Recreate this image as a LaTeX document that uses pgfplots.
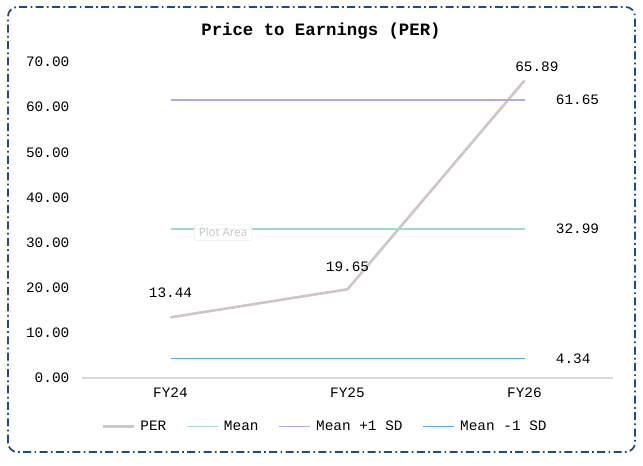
\documentclass[border=0pt]{standalone}
\usepackage{pgfplots}
\pgfplotsset{compat=1.18}
\usepackage{fontspec}
\setmainfont{Liberation Mono}
\newfontfamily\tipfont{Open Sans}
\definecolor{perc}{HTML}{D0C6C8}
\definecolor{meanc}{HTML}{9ED9C6}
\definecolor{plusc}{HTML}{B4A7E5}
\definecolor{minusc}{HTML}{5DA6F0}
\definecolor{borderc}{HTML}{1B4C8A}
\begin{document}
\begin{tikzpicture}
\useasboundingbox (0,0) rectangle (482.25pt,348.75pt);
\draw[borderc, line width=1.3pt, rounded corners=7pt, dash pattern=on 6pt off 2.5pt on 1.3pt off 2.5pt] (6pt,9.75pt) rectangle (476.25pt,343.5pt);
\node[font=\fontsize{13}{15}\selectfont\bfseries] at (240.75pt,325.5pt) {Price to Earnings (PER)};
\begin{axis}[
  at={(61.5pt,65.25pt)}, anchor=south west,
  scale only axis, width=398.25pt, height=237pt,
  xmin=-0.5, xmax=2.5, ymin=0, ymax=70,
  xtick={0,1,2}, xticklabels={FY24,FY25,FY26},
  ytick={0,10,20,30,40,50,60,70},
  yticklabel style={/pgf/number format/fixed, /pgf/number format/fixed zerofill, /pgf/number format/precision=2, xshift=-6pt},
  /pgf/number format/assume math mode=true,
  tick label style={font=\fontsize{10.8}{12}\selectfont},
  axis y line*=left, y axis line style={draw=none},
  axis x line*=bottom, x axis line style={draw=black!15, line width=0.8pt},
  major tick length=0pt,
  xticklabel style={yshift=-4pt},
  clip=false,
  legend columns=4,
  legend style={draw=none, fill=none, at={(0.4586,-0.153)}, anchor=center,
    font=\fontsize{10.8}{12}\selectfont, column sep=13pt,
    /tikz/every odd column/.append style={column sep=2pt}},
  legend image code/.code={\draw[#1] (0pt,0pt) -- (23pt,0pt);},
]
\addplot[perc, line width=2pt] coordinates {(0,13.44) (1,19.65) (2,65.89)};
\addlegendentry{PER}
\addplot[meanc, line width=1.2pt] coordinates {(0,32.99) (1,32.99) (2,32.99)};
\addlegendentry{Mean}
\addplot[plusc, line width=1.2pt] coordinates {(0,61.65) (1,61.65) (2,61.65)};
\addlegendentry{Mean +1 SD}
\addplot[minusc, line width=1.2pt] coordinates {(0,4.34) (1,4.34) (2,4.34)};
\addlegendentry{Mean -1 SD}
\begin{scope}[every node/.style={font=\fontsize{10.8}{12}\selectfont}]
\node[anchor=south] at (axis cs:0,13.44) [yshift=11pt] {13.44};
\node[anchor=south] at (axis cs:1,19.65) [yshift=10pt] {19.65};
\node[anchor=south] at (axis cs:2.07,65.89) [yshift=3pt] {65.89};
\node[anchor=west] at (axis cs:2,61.65) [xshift=20pt] {61.65};
\node[anchor=west] at (axis cs:2,32.99) [xshift=20pt] {32.99};
\node[anchor=west] at (axis cs:2,4.34) [xshift=20pt] {4.34};
\end{scope}
\node[font=\tipfont\fontsize{8.6}{10}\selectfont, text=black!22, fill=white, fill opacity=0.85, text opacity=1, draw=black!8, rounded corners=1pt, inner xsep=3.5pt, inner ysep=2.5pt] at (axis cs:0.297,32.2) {Plot Area};
\end{axis}
\end{tikzpicture}
\end{document}
